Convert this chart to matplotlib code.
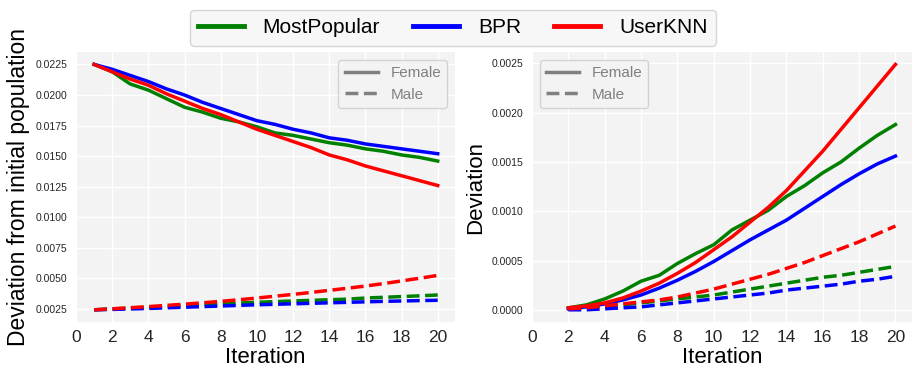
import matplotlib
matplotlib.use("Agg")
import matplotlib.pyplot as plt
from matplotlib.lines import Line2D

plt.rcParams["font.family"] = ["Liberation Sans", "DejaVu Sans"]

# left panel: deviation from initial population, iterations 1..20
iters_left = list(range(1, 21))
left_female = {
    "MostPopular": [0.0225, 0.0219, 0.0209, 0.0204, 0.0197, 0.0190, 0.0186, 0.0181, 0.0178, 0.0174,
                    0.0169, 0.0167, 0.0164, 0.0161, 0.0159, 0.0156, 0.0154, 0.0151, 0.0149, 0.0146],
    "BPR": [0.0225, 0.0221, 0.0216, 0.0211, 0.0205, 0.0200, 0.0194, 0.0189, 0.0184, 0.0179,
            0.0176, 0.0172, 0.0169, 0.0165, 0.0163, 0.0160, 0.0158, 0.0156, 0.0154, 0.0152],
    "UserKNN": [0.0225, 0.0219, 0.0213, 0.0208, 0.0201, 0.0195, 0.0189, 0.0184, 0.0178, 0.0172,
                0.0167, 0.0162, 0.0157, 0.0151, 0.0147, 0.0142, 0.0138, 0.0134, 0.0130, 0.0126],
}
left_male = {
    "MostPopular": [0.00244, 0.00251, 0.00258, 0.00265, 0.00272, 0.00280, 0.00287, 0.00293, 0.00299, 0.00305,
                    0.00311, 0.00316, 0.00321, 0.00326, 0.00331, 0.00340, 0.00346, 0.00352, 0.00358, 0.00365],
    "BPR": [0.00244, 0.00247, 0.00251, 0.00255, 0.00260, 0.00265, 0.00270, 0.00275, 0.00280, 0.00285,
            0.00289, 0.00293, 0.00297, 0.00301, 0.00305, 0.00309, 0.00313, 0.00316, 0.00319, 0.00322],
    "UserKNN": [0.00244, 0.00252, 0.00261, 0.00270, 0.00280, 0.00290, 0.00301, 0.00313, 0.00326, 0.00340,
                0.00355, 0.00370, 0.00386, 0.00403, 0.00420, 0.00438, 0.00458, 0.00480, 0.00502, 0.00525],
}

# right panel: deviation, iterations 2..20
iters_right = list(range(2, 21))
right_female = {
    "MostPopular": [0.00002, 0.00005, 0.00011, 0.00019, 0.00029, 0.00035, 0.00047, 0.00057, 0.00066, 0.00081,
                    0.00091, 0.00101, 0.00115, 0.00126, 0.00139, 0.00150, 0.00164, 0.00177, 0.00188],
    "BPR": [0.00001, 0.00003, 0.00006, 0.00010, 0.00015, 0.00022, 0.00030, 0.00039, 0.00049, 0.00060,
            0.00071, 0.00081, 0.00091, 0.00103, 0.00115, 0.00127, 0.00138, 0.00148, 0.00156],
    "UserKNN": [0.00002, 0.00004, 0.00007, 0.00012, 0.00019, 0.00027, 0.00037, 0.00048, 0.00061, 0.00074,
                0.00089, 0.00104, 0.00121, 0.00141, 0.00161, 0.00183, 0.00205, 0.00227, 0.00249],
}
right_male = {
    "MostPopular": [0.00001, 0.00002, 0.00004, 0.00005, 0.00007, 0.00009, 0.00011, 0.00013, 0.00015, 0.00018,
                    0.00021, 0.00024, 0.00027, 0.00030, 0.00033, 0.00035, 0.00038, 0.00041, 0.00044],
    "BPR": [0.00000, 0.00000, 0.00001, 0.00002, 0.00003, 0.00005, 0.00007, 0.00009, 0.00011, 0.00013,
            0.00015, 0.00017, 0.00020, 0.00022, 0.00024, 0.00026, 0.00029, 0.00031, 0.00034],
    "UserKNN": [0.00001, 0.00002, 0.00004, 0.00006, 0.00008, 0.00010, 0.00013, 0.00017, 0.00021, 0.00026,
                0.00031, 0.00036, 0.00042, 0.00048, 0.00055, 0.00062, 0.00069, 0.00077, 0.00085],
}

colors = {"MostPopular": "green", "BPR": "blue", "UserKNN": "red"}

fig = plt.figure(figsize=(9.24, 3.78), dpi=100)
ax1 = fig.add_axes([0.0823, 0.148, 0.410, 0.714])
ax2 = fig.add_axes([0.5758, 0.148, 0.411, 0.714])


def style_axes(ax):
    ax.set_facecolor("#f3f3f3")
    ax.grid(True, color="white", linewidth=1.0)
    ax.set_axisbelow(True)
    for s in ax.spines.values():
        s.set_visible(False)
    ax.tick_params(axis="y", labelsize=7.5, colors="#262626", length=0, pad=6)
    ax.tick_params(axis="x", labelsize=12.5, colors="#262626", length=0, pad=6)
    ax.set_xticks(range(0, 21, 2))
    ax.set_xlabel("Iteration", fontsize=16, labelpad=1)


for name, c in colors.items():
    ax1.plot(iters_left, left_female[name], color=c, lw=2.5)
    ax1.plot(iters_left, left_male[name], color=c, lw=2.5, ls="--")
    ax2.plot(iters_right, right_female[name], color=c, lw=2.5)
    ax2.plot(iters_right, right_male[name], color=c, lw=2.5, ls="--")

style_axes(ax1)
style_axes(ax2)
ax1.set_xlim(0, 20.95)
ax2.set_xlim(0, 20.9)
ax1.set_ylabel("Deviation from initial population", fontsize=16.5, labelpad=4)
ax2.set_ylabel("Deviation", fontsize=16, labelpad=4)

gender_handles = [Line2D([0], [0], color="gray", lw=2.5),
                  Line2D([0], [0], color="gray", lw=2.5, ls="--")]
for ax, loc in [(ax1, "upper right"), (ax2, "upper left")]:
    leg = ax.legend(gender_handles, ["Female", "Male"], loc=loc, fontsize=11,
                    frameon=True, facecolor="#f3f3f3", edgecolor="#cccccc",
                    handlelength=2.2)
    for t in leg.get_texts():
        t.set_color("gray")

algo_handles = [Line2D([0], [0], color=c, lw=3.5) for c in colors.values()]
fig.legend(algo_handles, list(colors.keys()), loc="upper center", ncol=3,
           bbox_to_anchor=(0.49, 0.985), fontsize=15, frameon=True,
           facecolor="#f5f5f5", edgecolor="#cccccc", columnspacing=1.6,
           handlelength=2.2, handletextpad=0.9, borderpad=0.4, borderaxespad=0.2)

fig.savefig("out.png", dpi=100)
